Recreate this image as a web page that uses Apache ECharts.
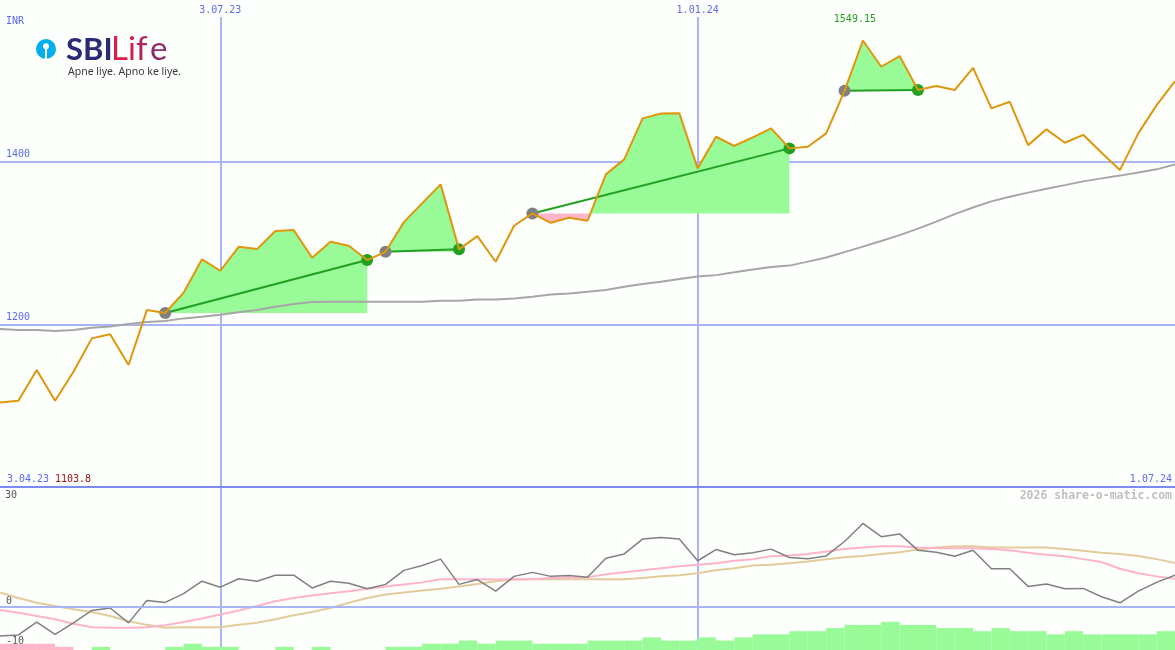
<!DOCTYPE html>
<html><head><meta charset="utf-8">
<script src="https://cdn.jsdelivr.net/npm/echarts@6/dist/echarts.min.js"></script>
<style>html,body{margin:0;padding:0;background:#fdfffc}#c{width:1175px;height:650px}</style>
</head><body><div id="c"></div>
<script>
// ---------- data ----------
const dates = ['10.04.23','17.04.23','24.04.23','1.05.23','8.05.23','15.05.23','22.05.23','29.05.23','5.06.23','12.06.23','19.06.23','26.06.23','3.07.23','10.07.23','17.07.23','24.07.23','31.07.23','7.08.23','14.08.23','21.08.23','28.08.23','4.09.23','11.09.23','18.09.23','25.09.23','2.10.23','9.10.23','16.10.23','23.10.23','30.10.23','6.11.23','13.11.23','20.11.23','27.11.23','4.12.23','11.12.23','18.12.23','25.12.23','1.01.24','8.01.24','15.01.24','22.01.24','29.01.24','5.02.24','12.02.24','19.02.24','26.02.24','4.03.24','11.03.24','18.03.24','25.03.24','1.04.24','8.04.24','15.04.24','22.04.24','29.04.24','6.05.24','13.05.24','20.05.24','27.05.24','3.06.24','10.06.24','17.06.24','24.06.24','1.07.24'];
const periodStart = '3.04.23';
const markDates = ['3.07.23','1.01.24'];
const mainTicks = [1200, 1400];
const lowTicks = [0, -10];
const lowTopTick = [30];

const price = [1103.8,1106,1143.8,1106,1141.7,1182.8,1188,1150,1217.6,1214.1,1238.9,1280,1266,1295.4,1292.6,1314.8,1316,1281.9,1301.6,1296.7,1279.1,1289.3,1325.8,1349.2,1372.2,1292.3,1308.6,1277,1321.3,1336.5,1325,1331.1,1327.4,1384.5,1403,1453.4,1459.5,1459.8,1391.9,1430.8,1419.7,1430,1441.1,1416.5,1418.5,1434.9,1487.3,1549.15,1516.9,1530,1488.2,1493.1,1488.2,1515.6,1465.7,1473.8,1420.5,1439.9,1423.4,1433.2,1411.1,1389.8,1434.9,1469.7,1499.3];
const ma = [1194.2,1193,1193,1191.8,1193,1195.8,1197.5,1200.4,1202.8,1204.1,1207.4,1209.3,1211.8,1214.8,1217.6,1221.6,1225,1227.4,1227.8,1227.8,1227.8,1227.8,1227.8,1227.8,1229,1229,1230.7,1230.7,1232,1234,1236.9,1238.1,1240.1,1242.2,1246.2,1249.6,1252.4,1255.7,1258.8,1260.6,1264,1267.6,1270.5,1272.3,1277.2,1282.2,1288.9,1295.7,1302.5,1309.8,1317.8,1326.4,1335.7,1343.7,1351.3,1357,1362.1,1366.8,1371.3,1375.9,1379.6,1383,1386.7,1390.7,1396.6];

// signal segments (index of start / end week)
const sigStart = [9, 21, 29, 46];
const sigEnd = [20, 25, 43, 50];

// lower panel
const osc = [-7.2,-6.9,-3.7,-6.8,-3.9,-0.8,-0.2,-3.9,1.7,1.2,3.4,6.5,5.0,7.1,6.5,8.0,8.0,4.8,6.5,6.0,4.6,5.7,9.2,10.4,12.0,5.7,6.9,4.0,7.7,8.7,7.7,7.9,7.5,12.2,13.3,17.0,17.4,17.0,11.6,14.4,13.1,13.6,14.5,12.4,12.1,12.8,16.4,20.9,17.6,18.3,14.2,13.7,12.7,14.2,9.6,9.6,5.2,5.8,4.6,4.7,2.6,1.1,4.0,6.2,8.0];
const oscFast = [-0.7,-1.4,-2.2,-3.0,-4.1,-5.0,-5.1,-5.1,-5.0,-4.5,-3.7,-2.8,-1.8,-0.8,0.3,1.5,2.3,2.9,3.5,4.0,4.6,5.2,5.7,6.2,7.0,7.0,7.0,6.9,7.0,7.0,7.3,7.4,7.5,8.2,8.7,9.2,9.7,10.2,10.6,11.0,11.6,12.0,12.7,12.9,13.3,13.9,14.5,14.9,15.2,15.2,14.9,14.7,14.7,14.7,14.5,14.2,13.6,13.1,12.7,12.0,11.3,9.6,8.5,7.7,7.1];
const oscSlow = [3.7,2.3,1.1,0.3,-0.5,-1.2,-2.2,-3.5,-4.4,-5.1,-5.0,-5.0,-5.0,-4.4,-3.9,-3.0,-2.0,-1.2,-0.2,1.1,2.3,3.2,3.7,4.2,4.6,5.2,5.8,6.5,6.9,7.0,7.0,7.0,7.0,7.0,7.0,7.3,7.7,8.0,8.5,9.2,9.7,10.4,10.6,11.0,11.4,12.0,12.5,12.8,13.3,13.7,14.4,14.9,15.2,15.2,14.9,14.9,14.9,14.9,14.5,14.1,13.6,13.3,12.8,12.0,11.0];
const histUp = ['-','-','-','-','-',1,'-','-','-',1,2,1,1,'-','-',1,'-',1,'-','-','-',1,1,2,2,3,2,3,3,2,2,2,3,3,3,4,3,3,4,3,4,5,5,6,6,7,8,8,9,8,8,7,7,6,7,6,6,5,6,5,5,5,5,6];
const histDown = [2,2,2,1,'-','-','-','-','-','-','-','-','-','-','-','-','-','-','-','-','-','-','-','-','-','-','-','-','-','-','-','-','-','-','-','-','-','-','-','-','-','-','-','-','-','-','-','-','-','-','-','-','-','-','-','-','-','-','-','-','-','-','-','-'];
const barDates = dates.slice(0, dates.length - 1);

// ---------- styles ----------
const MONO = '"DejaVu Sans Mono", monospace';
const BLUE = '#5a6af0', GRIDC = '#a9b5f5', DIVC = '#7b8af0';
const ORANGE = '#e0960c', GREEN = '#22a022', FILLG = '#98fb98', FILLP = '#ffb6c8';

const isMark = (i, v) => markDates.includes(v);
const series = [];

// filled areas between price and the signal's start level
series.push({
  type: 'custom', xAxisIndex: 0, yAxisIndex: 0, z: 1, silent: true,
  data: sigStart.map((s, k) => [s, sigEnd[k], price[s]]),
  encode: {x: 0, y: 2},
  renderItem: function (params, api) {
    const s = api.value(0), e = api.value(1), b = api.value(2);
    const P = i => api.coord([i, price[i]]);
    const yb = api.coord([s, b])[1];
    const up = [[P(s)[0], yb]], dn = [[P(s)[0], yb]];
    for (let i = s; i <= e; i++) {
      const pt = P(i);
      if (i > s) {
        const prev = P(i - 1);
        const a = price[i - 1] - b, c = price[i] - b;
        if (a * c < 0) {
          const t = a / (a - c);
          const cx = prev[0] + t * (pt[0] - prev[0]);
          up.push([cx, yb]); dn.push([cx, yb]);
        }
      }
      up.push([pt[0], price[i] >= b ? pt[1] : yb]);
      dn.push([pt[0], price[i] <= b ? pt[1] : yb]);
    }
    up.push([P(e)[0], yb]); dn.push([P(e)[0], yb]);
    return {type: 'group', children: [
      {type: 'polygon', shape: {points: up}, style: {fill: FILLG}},
      {type: 'polygon', shape: {points: dn}, style: {fill: FILLP}}
    ]};
  }
});
series.push({type: 'line', xAxisIndex: 0, yAxisIndex: 0, data: ma, symbol: 'none',
  lineStyle: {color: '#a6a6a6', width: 2}, z: 2, silent: true});
sigStart.forEach((s, k) => {
  const e = sigEnd[k];
  const data = price.map((v, i) => i === s ? {value: v, itemStyle: {color: '#808080'}}
    : i === e ? {value: v, itemStyle: {color: GREEN}} : '-');
  series.push({type: 'line', xAxisIndex: 0, yAxisIndex: 0, data, connectNulls: true, symbol: 'circle',
    symbolSize: 12, showAllSymbol: true, lineStyle: {color: GREEN, width: 2}, itemStyle: {color: GREEN},
    z: 3, silent: true});
});
series.push({type: 'line', xAxisIndex: 0, yAxisIndex: 0, data: price, symbol: 'none',
  lineStyle: {color: ORANGE, width: 2}, z: 4, silent: true,
  markPoint: {symbol: 'circle', symbolSize: 0, silent: true, data: [{type: 'max'}],
    label: {show: true, position: 'inside', offset: [-8, -21], color: GREEN, fontFamily: MONO, fontSize: 10,
      formatter: p => String(p.value)}}});

// lower panel
series.push({type: 'bar', xAxisIndex: 2, yAxisIndex: 3, data: histUp, barWidth: '100%', barGap: '-100%',
  itemStyle: {color: FILLG}, silent: true, z: 1});
series.push({type: 'bar', xAxisIndex: 2, yAxisIndex: 3, data: histDown, barWidth: '100%', barGap: '-100%',
  itemStyle: {color: FILLP}, silent: true, z: 1});
series.push({type: 'line', xAxisIndex: 1, yAxisIndex: 1, data: oscSlow, symbol: 'none',
  lineStyle: {color: '#e3cc9c', width: 2}, z: 2, silent: true});
series.push({type: 'line', xAxisIndex: 1, yAxisIndex: 1, data: oscFast, symbol: 'none',
  lineStyle: {color: '#ffb3c9', width: 2}, z: 3, silent: true});
series.push({type: 'line', xAxisIndex: 1, yAxisIndex: 1, data: osc, symbol: 'none',
  lineStyle: {color: '#808080', width: 1.5}, z: 4, silent: true,
  markLine: {silent: true, symbol: 'none', label: {show: false},
    lineStyle: {color: GRIDC, width: 2, type: 'solid'}, data: [{yAxis: 0}]}});

const txt = (x, y, text, fill, extra) => Object.assign({type: 'text', x, y, z: 100, silent: true,
  style: Object.assign({text, fill, font: '10px ' + MONO, verticalAlign: 'middle'}, extra || {})});

const option = {
  backgroundColor: '#fdfffc',
  animation: false,
  grid: [
    {left: 0, right: 0, top: 0, height: 487},
    {left: 0, right: 0, top: 487, height: 160.3},
    {left: 0, right: 0, top: 487, bottom: 0}
  ],
  xAxis: [
    {type: 'category', gridIndex: 0, data: dates, boundaryGap: false, position: 'top',
      axisLine: {show: false, onZero: false}, axisTick: {show: false},
      axisLabel: {inside: true, interval: isMark, margin: 0, color: BLUE, fontFamily: MONO, fontSize: 10,
        backgroundColor: '#fdfffc', padding: [5, 3, 2, 3]},
      splitLine: {show: true, interval: isMark, lineStyle: {color: GRIDC, width: 2}}},
    {type: 'category', gridIndex: 1, data: dates, boundaryGap: false, position: 'top',
      axisLine: {show: true, onZero: false, lineStyle: {color: DIVC, width: 2}}, axisTick: {show: false},
      axisLabel: {show: false},
      splitLine: {show: true, interval: isMark, lineStyle: {color: GRIDC, width: 2}}},
    {type: 'category', gridIndex: 2, data: barDates, boundaryGap: true, show: false}
  ],
  yAxis: [
    {type: 'value', gridIndex: 0, min: 1000, max: 1599, interval: 200, position: 'left',
      axisLine: {show: false}, axisTick: {show: false},
      splitLine: {show: true, showMinLine: false, showMaxLine: false, lineStyle: {color: GRIDC, width: 2}},
      axisLabel: {inside: true, margin: 6, verticalAlign: 'bottom', padding: [0, 0, 2, 0], color: BLUE,
        fontFamily: MONO, fontSize: 10, showMinLabel: false, showMaxLabel: false,
        formatter: v => mainTicks.includes(v) ? String(v) : ''}},
    {type: 'value', gridIndex: 1, min: -10, max: 30, interval: 10, position: 'left',
      axisLine: {show: false}, axisTick: {show: false}, splitLine: {show: false},
      axisLabel: {inside: true, margin: 6, verticalAlign: 'bottom', padding: [0, 0, 1, 0], color: '#555',
        fontFamily: MONO, fontSize: 10, formatter: v => lowTicks.includes(v) ? String(v) : ''}},
    {type: 'value', gridIndex: 1, min: -10, max: 30, interval: 10, position: 'left', offset: 0,
      axisLine: {show: false}, axisTick: {show: false}, splitLine: {show: false},
      axisLabel: {inside: true, margin: 5, verticalAlign: 'top', padding: [3, 0, 0, 0], color: '#555',
        fontFamily: MONO, fontSize: 10, formatter: v => lowTopTick.includes(v) ? String(v) : ''}},
    {type: 'value', gridIndex: 2, min: 0, max: 52, show: false}
  ],
  series,
  graphic: [
    txt(6, 21.5, 'INR', BLUE),
    txt(7, 479, periodStart, BLUE),
    txt(55, 479, String(Math.min(...price)), '#a31515'),
    txt(1172, 479, dates[dates.length - 1], BLUE, {align: 'right'}),
    txt(1172, 496, '2026 share-o-matic.com', '#c0c0c0', {align: 'right', font: 'bold 11.5px ' + MONO}),
    // logo
    {type: 'circle', z: 100, silent: true, shape: {cx: 46, cy: 49, r: 10}, style: {fill: '#00aeef'}},
    {type: 'circle', z: 101, silent: true, shape: {cx: 46, cy: 46.3, r: 3}, style: {fill: '#ffffff'}},
    {type: 'rect', z: 101, silent: true, shape: {x: 45, y: 48, width: 2, height: 12}, style: {fill: '#ffffff'}},
    txt(66, 49.5, 'SBI', '#2b2a75', {font: 'bold 31px Lato'}),
    txt(111, 49.5, 'L', '#d7204d', {font: '33px Lato'}),
    txt(128, 49.5, 'i', '#cf2150', {font: '33px Lato'}),
    txt(136, 49.5, 'f', '#b4255d', {font: '33px Lato'}),
    txt(150, 49.5, 'e', '#8f2a6a', {font: '33px Lato'}),
    txt(68, 72, 'Apne liye. Apno ke liye.', '#3a3a3a', {font: '10.5px "Noto Sans"'})
  ]
};
const chart = echarts.init(document.getElementById('c'));
chart.setOption(option);
</script>
</body></html>
